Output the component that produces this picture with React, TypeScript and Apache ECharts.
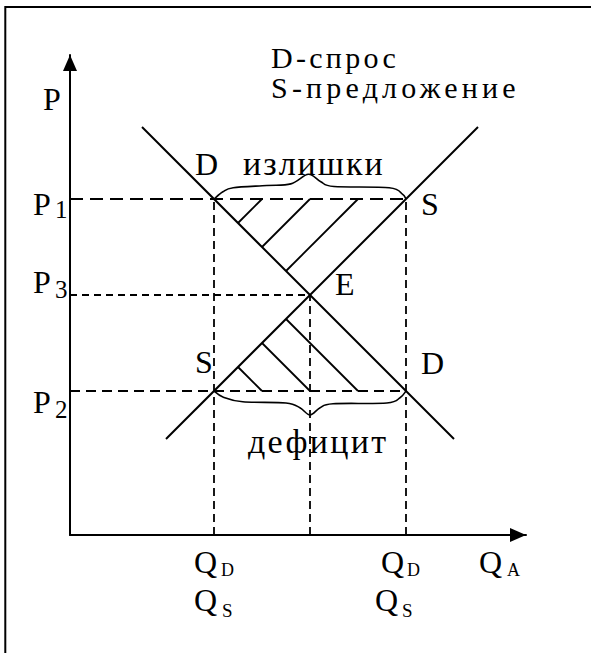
import React, { useEffect, useRef } from "react";
import * as echarts from "echarts";

// ---- data (model units: quantity Q on x, price P on y) ----
const qMax = 19;
const pMax = 20;
const demandLine: number[][] = [[3, 17], [16, 4]];
const supplyLine: number[][] = [[4, 4], [17, 17]];
// dashed guides: [from, to]
const guideP1: number[][] = [[0, 14], [14, 14]];
const guideP3: number[][] = [[0, 10], [10, 10]];
const guideP2: number[][] = [[0, 6], [14, 6]];
const guideQLeft: number[][] = [[6, 0], [6, 14]];
const guideQMid: number[][] = [[10, 0], [10, 10]];
const guideQRight: number[][] = [[14, 0], [14, 14]];
// hatching segments
const surplusHatch: number[][][] = [
  [[8, 14], [7, 13]],
  [[10, 14], [8, 12]],
  [[12, 14], [9, 11]],
];
const deficitHatch: number[][][] = [
  [[7, 7], [8, 6]],
  [[8, 8], [10, 6]],
  [[9, 9], [12, 6]],
];
// curly braces
const surplusBrace: number[][] = [
  [6, 14], [6.37, 14.3], [6.8, 14.47], [8.2, 14.56], [9.2, 14.63], [9.93, 15.03],
  [10.45, 14.72], [11.0, 14.52], [13.3, 14.47], [13.85, 14.2], [14, 14],
];
const deficitBrace: number[][] = [
  [6, 6], [6.37, 5.75], [7.2, 5.55], [9.0, 5.5], [9.58, 5.3], [10, 5.0],
  [10.42, 5.3], [10.96, 5.47], [13.2, 5.5], [13.75, 5.72], [14, 6],
];
// texts
const headerLines = ["D-спрос", "S-предложение"];
const regionLabels = ["излишки", "дефицит"];
const pTickLabels: string[][] = [["P", "1"], ["P", "3"], ["P", "2"]];
const qTickLabels: string[][] = [["Q", "D"], ["Q", "S"]];
const axisNames: string[][] = [["P", ""], ["Q", "A"]];
const pointLabels = ["D", "S", "E", "S", "D"];

const FAMILY = "Liberation Serif, Times New Roman, serif";

function txt(text: string, x: number, baseline: number, size: number) {
  return {
    type: "text",
    x,
    y: baseline - 0.3375 * size,
    silent: true,
    z: 100,
    style: {
      text,
      font: `${size}px ${FAMILY}`,
      fill: "#000",
      align: "left",
      verticalAlign: "middle",
    },
  };
}

function catmull(pts: number[][]): string {
  let d = `M${pts[0][0]},${pts[0][1]}`;
  for (let i = 0; i < pts.length - 1; i++) {
    const p0 = pts[i - 1] || pts[i];
    const p1 = pts[i];
    const p2 = pts[i + 1];
    const p3 = pts[i + 2] || p2;
    const c1 = [p1[0] + (p2[0] - p0[0]) / 6, p1[1] + (p2[1] - p0[1]) / 6];
    const c2 = [p2[0] - (p3[0] - p1[0]) / 6, p2[1] - (p3[1] - p1[1]) / 6];
    d += ` C${c1[0]},${c1[1]} ${c2[0]},${c2[1]} ${p2[0]},${p2[1]}`;
  }
  return d;
}

export default function App() {
  const ref = useRef<HTMLDivElement>(null);
  useEffect(() => {
    if (!ref.current) return;
    const el = ref.current;
    const chart = echarts.init(el, null, { renderer: "svg" });
    const braces = [surplusBrace, deficitBrace];
    const guides = [
      { coords: guideP1, dash: [13, 7] },
      { coords: guideP3, dash: [7, 5] },
      { coords: guideP2, dash: [10, 6] },
      { coords: guideQLeft, dash: [8, 5] },
      { coords: guideQMid, dash: [8, 5] },
      { coords: guideQRight, dash: [8, 5] },
    ];
    const axisLineCommon = {
      show: true,
      symbol: ["none", "triangle"],
      symbolSize: [14, 16],
      symbolOffset: [0, -8],
      lineStyle: { color: "#000", width: 2 },
    };
    const graphics: any[] = [
      {
        type: "rect",
        shape: { x: 5.3, y: 7, width: 800, height: 800 },
        style: { stroke: "#000", fill: "none", lineWidth: 2 },
        silent: true,
      },
      txt(headerLines[0], 271, 68, 30),
      txt(headerLines[1], 271, 98, 30),
      txt(axisNames[0][0], 43, 110, 32),
      // P ticks
      txt(pTickLabels[0][0], 33, 215, 32),
      txt(pTickLabels[0][1], 55, 218, 25),
      txt(pTickLabels[1][0], 33, 293, 32),
      txt(pTickLabels[1][1], 55, 298, 25),
      txt(pTickLabels[2][0], 33, 413, 32),
      txt(pTickLabels[2][1], 55, 418, 25),
      // point labels
      txt(pointLabels[0], 195, 175, 32),
      txt(pointLabels[1], 421, 215, 32),
      txt(pointLabels[2], 335, 295, 32),
      txt(pointLabels[3], 195, 373, 32),
      txt(pointLabels[4], 421, 374, 32),
      txt(regionLabels[0], 243, 175, 34),
      txt(regionLabels[1], 248, 453, 34),
      // Q ticks
      txt(qTickLabels[0][0], 194, 573, 32),
      txt(qTickLabels[0][1], 221, 576, 18),
      txt(qTickLabels[1][0], 194, 611, 32),
      txt(qTickLabels[1][1], 222, 617, 19),
      txt(qTickLabels[0][0], 381, 573, 32),
      txt(qTickLabels[0][1], 407, 576, 18),
      txt(qTickLabels[1][0], 375, 611, 32),
      txt(qTickLabels[1][1], 402, 617, 19),
      txt(axisNames[1][0], 479, 573, 32),
      txt(axisNames[1][1], 507, 576, 18),
    ];
    chart.setOption({
      animation: false,
      backgroundColor: "#fff",
      grid: { left: 70, top: 55, width: 456, height: 480, containLabel: false },
      xAxis: {
        type: "value",
        min: 0,
        max: qMax,
        axisLine: axisLineCommon,
        axisTick: { show: false },
        axisLabel: { show: false },
        splitLine: { show: false },
      },
      yAxis: {
        type: "value",
        min: 0,
        max: pMax,
        axisLine: axisLineCommon,
        axisTick: { show: false },
        axisLabel: { show: false },
        splitLine: { show: false },
      },
      series: [
        {
          type: "lines",
          coordinateSystem: "cartesian2d",
          silent: true,
          z: 1,
          lineStyle: { color: "#000", width: 1.8, opacity: 1 },
          data: guides.map((g) => ({ coords: g.coords, lineStyle: { type: g.dash, color: "#000", width: 1.8, opacity: 1 } })),
        },
        {
          type: "line",
          data: demandLine,
          symbol: "none",
          showSymbol: false,
          silent: true,
          z: 3,
          lineStyle: { color: "#000", width: 2 },
        },
        {
          type: "line",
          data: supplyLine,
          symbol: "none",
          showSymbol: false,
          silent: true,
          z: 3,
          lineStyle: { color: "#000", width: 2 },
        },
        {
          type: "lines",
          coordinateSystem: "cartesian2d",
          silent: true,
          z: 2,
          lineStyle: { color: "#000", width: 1.8, opacity: 1, type: "solid" },
          data: [...surplusHatch, ...deficitHatch].map((s) => ({ coords: s })),
        },
        {
          type: "custom",
          coordinateSystem: "cartesian2d",
          silent: true,
          z: 4,
          data: braces.map((b, i) => [b[0][0], b[0][1], i]),
          renderItem: (params: any, api: any) => {
            const pts = braces[params.dataIndex].map((p) => api.coord(p));
            return {
              type: "path",
              shape: { pathData: catmull(pts) },
              style: { stroke: "#000", fill: "none", lineWidth: 1.6 },
            };
          },
        },
      ],
      graphic: graphics,
    });
    const spacing: Record<string, string> = {
      [headerLines[0]]: "3.3px",
      [headerLines[1]]: "4.2px",
      [regionLabels[0]]: "2px",
      [regionLabels[1]]: "2.3px",
    };
    const applySpacing = () => {
      el.querySelectorAll("text").forEach((t) => {
        const ls = spacing[(t.textContent || "").trim()];
        if (ls) (t as SVGTextElement).style.letterSpacing = ls;
      });
    };
    applySpacing();
    chart.on("rendered", applySpacing);
    const timer = setTimeout(applySpacing, 50);
    return () => {
      clearTimeout(timer);
      chart.dispose();
    };
  }, []);
  return (
    <div
      ref={ref}
      style={{ position: "absolute", left: 0, top: 0, width: 591, height: 653, background: "#fff" }}
    />
  );
}
